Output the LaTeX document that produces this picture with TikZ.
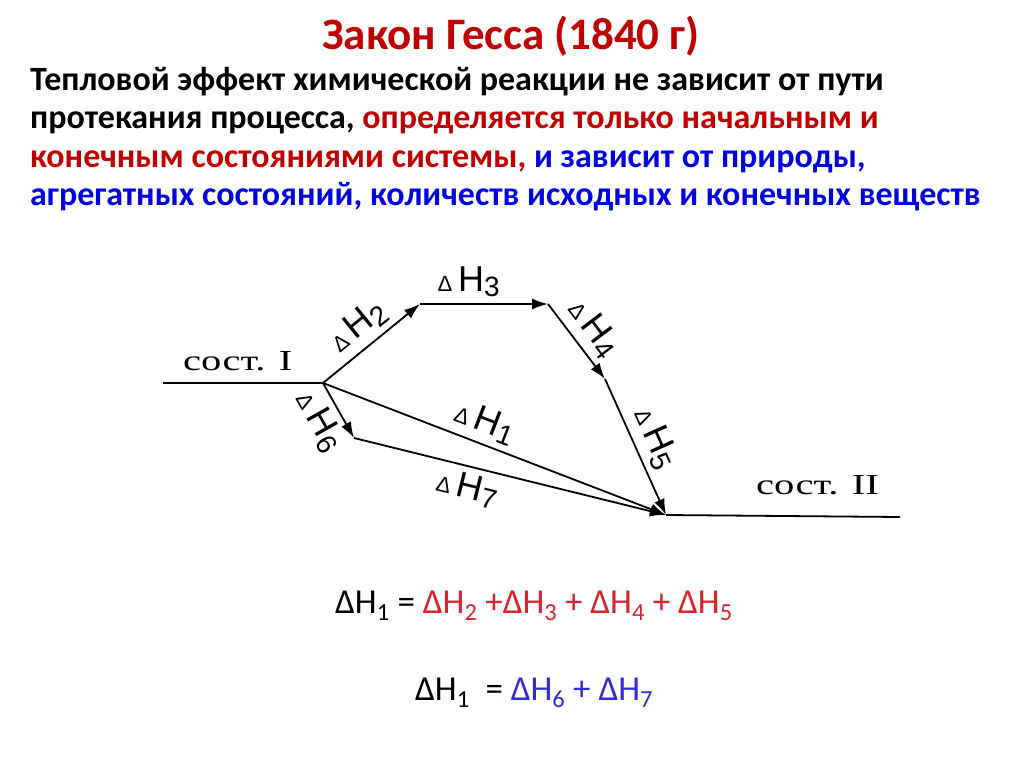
\documentclass[tikz,border=0pt]{standalone}
\usepackage{fontspec}
\setmainfont{Carlito}
\newfontfamily\sostfont[FakeStretch=1.4]{Liberation Serif}
\newfontfamily\lblfont{Liberation Sans}
\usetikzlibrary{arrows.meta}
\definecolor{titlered}{RGB}{192,0,0}
\definecolor{textblue}{RGB}{0,0,225}
\definecolor{eqred}{RGB}{215,35,45}
\definecolor{eqblue}{RGB}{45,45,215}
\newcommand{\dH}[1]{{\fontsize{22}{22}\selectfont Δ}\,H\raisebox{-5pt}{\fontsize{28}{28}\selectfont #1}}

\begin{document}
\begin{tikzpicture}[x=1pt,y=-1pt,
    line/.style={line width=1.8pt},
    arr/.style={line,-{Latex[length=16pt,width=11pt]}},
    lbl/.style={font=\lblfont\fontsize{36}{36}\selectfont,sloped,inner sep=6pt},
    sost/.style={font=\sostfont\fontsize{29}{29}\selectfont,inner sep=0pt},
    body/.style={font=\bfseries\fontsize{34}{38}\selectfont,anchor=base west,inner sep=0pt},
    eq/.style={font=\fontsize{35}{35}\selectfont,anchor=base west,inner sep=0pt}]
  \useasboundingbox (0,0) rectangle (1024,767);

  % heading
  \node[anchor=base,inner sep=0pt,text=titlered,font=\bfseries\fontsize{45}{45}\selectfont]
    (title) at (511,50) {Закон Гесса (1840 г)};
  \node[body] (line1) at (30,91) {Тепловой эффект химической реакции не зависит от пути};
  \node[body] (line2) at (30,129) {протекания процесса, \textcolor{titlered}{определяется только начальным и}};
  \node[body] (line3) at (30,168) {\textcolor{titlered}{конечным состояниями системы,} \textcolor{textblue}{и зависит от природы,}};
  \node[body,text=textblue] (line4) at (30,206) {агрегатных состояний, количеств исходных и конечных веществ};

  % states
  \coordinate (left1) at (163,383);
  \coordinate (sost1) at (323,383);
  \coordinate (step2) at (420,304);
  \coordinate (step3) at (548,304);
  \coordinate (step4) at (605,379);
  \coordinate (sost2) at (666,515);
  \coordinate (step6) at (354,438);
  \coordinate (right2) at (900,517);

  \node[sost,anchor=base west] (name1) at (183,370) {сост. I};
  \node[sost,anchor=base west] (name2) at (756,494) {сост. II};

  \draw[line] (left1) -- (sost1);
  \draw[line] (sost2) -- (right2);

  % first path
  \draw[arr] (sost1) -- node[lbl,above] {\dH{2}} (step2);
  \draw[arr] (step2) -- node[lbl,above,pos=0.38] {\dH{3}} (step3);
  \draw[arr] (step3) -- node[lbl,above] {\dH{4}} (step4);
  \draw[arr] (step4) -- node[lbl,above] {\dH{5}} (sost2);

  % direct path
  \draw[arr] (sost1) -- node[lbl,above,pos=0.45] {\dH{1}} (sost2);

  % second path
  \draw[arr] (sost1) -- node[lbl,below] {\dH{6}} (step6);
  \draw[arr] (step6) -- node[lbl,below,pos=0.38] {\dH{7}} (sost2);

  % sums
  \node[eq] (eq1) at (335,613) {ΔH\textsubscript{1} = \textcolor{eqred}{ΔH\textsubscript{2} +ΔH\textsubscript{3} + ΔH\textsubscript{4} + ΔH\textsubscript{5}}};
  \node[eq] (eq2) at (415,700) {ΔH\textsubscript{1}\ \ = \textcolor{eqblue}{ΔH\textsubscript{6} + ΔH\textsubscript{7}}};
\end{tikzpicture}
\end{document}
